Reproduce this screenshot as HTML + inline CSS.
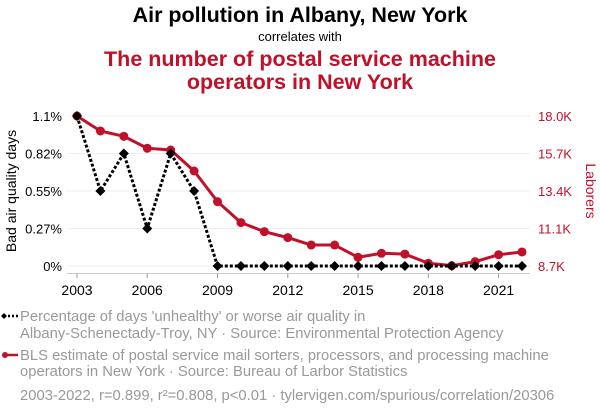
<!DOCTYPE html>
<html><head><meta charset="utf-8"><style>
body{margin:0;background:#fff;width:600px;height:414px;overflow:hidden;font-family:"Liberation Sans",sans-serif}
svg{display:block}
</style></head><body>
<svg id="c" width="600" height="414" xmlns="http://www.w3.org/2000/svg">
<text x="300" y="22" text-anchor="middle" font-size="21.5" font-weight="bold" fill="#000">Air pollution in Albany, New York</text>
<text x="300" y="41" text-anchor="middle" font-size="13" fill="#000">correlates with</text>
<text x="300" y="66" text-anchor="middle" font-size="21.5" font-weight="bold" fill="#c0102a">The number of postal service machine</text>
<text x="300" y="89" text-anchor="middle" font-size="21.5" font-weight="bold" fill="#c0102a">operators in New York</text>
<text transform="translate(16,191) rotate(-90)" text-anchor="middle" font-size="14" fill="#000">Bad air quality days</text>
<text transform="translate(586,191) rotate(90)" text-anchor="middle" font-size="14" fill="#c0102a">Laborers</text>
<g id="plot"></g>
<g font-size="14.8" fill="#999">
<text x="20" y="321">Percentage of days 'unhealthy' or worse air quality in</text>
<text x="20" y="338">Albany-Schenectady-Troy, NY · Source: Environmental Protection Agency</text>
<text x="20" y="360">BLS estimate of postal service mail sorters, processors, and processing machine</text>
<text x="20" y="376">operators in New York · Source: Bureau of Larbor Statistics</text>
<text x="20" y="400">2003-2022, r=0.899, r²=0.808, p&lt;0.01 · tylervigen.com/spurious/correlation/20306</text>
</g>
<g><line x1="4" y1="316" x2="18" y2="316" stroke="#000" stroke-width="2.5" stroke-dasharray="2,2"/><path d="M1,316 L4,313 L7,316 L4,319Z" fill="#000"/></g>
<g><line x1="4" y1="355" x2="18" y2="355" stroke="#c0102a" stroke-width="2.5"/><circle cx="5" cy="355" r="3" fill="#c0102a"/></g>
</svg>
<script>
const years=[2003,2004,2005,2006,2007,2008,2009,2010,2011,2012,2013,2014,2015,2016,2017,2018,2019,2020,2021,2022];
const airValues=[1.096,0.548,0.822,0.274,0.822,0.548,0,0,0,0,0,0,0,0,0,0,0,0,0,0];
const laborValues=[18000,17070,16740,16000,15890,14590,12690,11390,10830,10460,10000,10000,9240,9490,9440,8870,8720,8970,9400,9570];
const leftTicks=[0,0.274,0.548,0.822,1.096];
const leftTickLabels=["0%","0.27%","0.55%","0.82%","1.1%"];
const rightTicks=[8700,11025,13350,15675,18000];
const rightTickLabels=["8.7K","11.1K","13.4K","15.7K","18.0K"];
const xTicks=[2003,2006,2009,2012,2015,2018,2021];
const NS="http://www.w3.org/2000/svg";
const X0=77,X1=522,Y0=266,Y1=116;
const x=y=>X0+(y-2003)/(2022-2003)*(X1-X0);
const yl=v=>Y0-(v-0)/(1.096-0)*(Y0-Y1);
const yr=v=>Y0-(v-8700)/(18000-8700)*(Y0-Y1);
const g=document.getElementById('plot');
function mk(t,a){const e=document.createElementNS(NS,t);for(const k in a)e.setAttribute(k,a[k]);g.appendChild(e);return e;}
leftTicks.forEach((v,i)=>{
 const l=mk('line',{x1:X0-10,x2:X1+8,y1:yl(v),y2:yl(v),stroke:'#eee','stroke-width':1});
 
 
 const t=mk('text',{x:62,y:yl(v)+5,'text-anchor':'end','font-size':13,fill:'#000'});t.textContent=leftTickLabels[i];
 
 
});
rightTicks.forEach((v,i)=>{
 const t=mk('text',{x:538,y:yr(v)+5,'font-size':13,fill:'#c0102a'});t.textContent=rightTickLabels[i];
 
 
});
const ax=mk('line',{x1:X0-10,x2:X1+8,y1:273.5,y2:273.5,stroke:'#ccc'});


xTicks.forEach(yv=>{
 const k=mk('line',{x1:x(yv),x2:x(yv),y1:273.5,y2:278,stroke:'#999'});
 
 
 const t=mk('text',{x:x(yv),y:295,'text-anchor':'middle','font-size':14,fill:'#000'});t.textContent=yv;
 
 
});
const rl=mk('polyline',{points:years.map((yy,i)=>x(yy)+','+yr(laborValues[i])).join(' '),fill:'none',stroke:'#c0102a','stroke-width':3,'stroke-linejoin':'round'});


years.forEach((yy,i)=>{const c=mk('circle',{cx:x(yy),cy:yr(laborValues[i]),r:4.5,fill:'#c0102a'});
 
 });
const al=mk('polyline',{points:years.map((yy,i)=>x(yy)+','+yl(airValues[i])).join(' '),fill:'none',stroke:'#000','stroke-width':3,'stroke-dasharray':'3,2'});


years.forEach((yy,i)=>{const cx=x(yy),cy=yl(airValues[i]);
 const p=mk('path',{d:`M${cx-5},${cy}L${cx},${cy-5}L${cx+5},${cy}L${cx},${cy+5}Z`,fill:'#000'});
 
 });
</script>
</body></html>
